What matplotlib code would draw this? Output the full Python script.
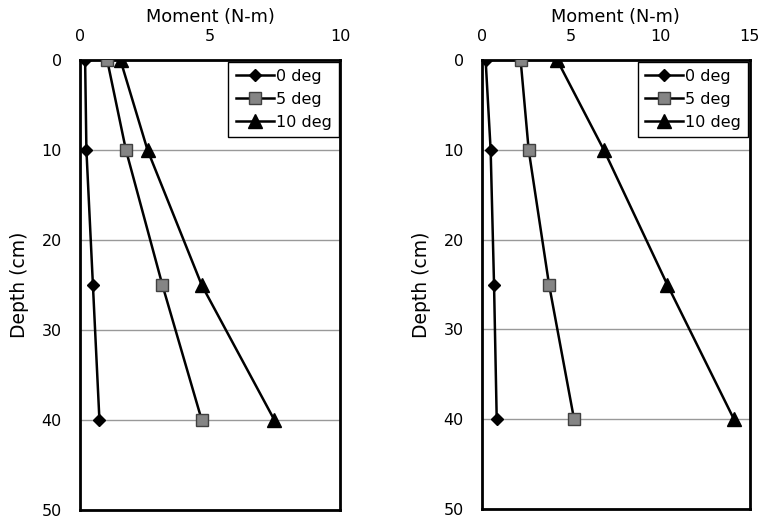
import matplotlib
matplotlib.use('Agg')
import matplotlib.pyplot as plt

plt.rcParams['font.family'] = ['DejaVu Sans']

depth = [0, 10, 25, 40]
labels = ['0 deg', '5 deg', '10 deg']

# left panel moments (N-m)
left_0 = [0.2, 0.25, 0.5, 0.75]
left_5 = [1.05, 1.77, 3.17, 4.68]
left_10 = [1.56, 2.6, 4.68, 7.47]

# right panel moments (N-m)
right_0 = [0.22, 0.5, 0.69, 0.84]
right_5 = [2.18, 2.63, 3.77, 5.17]
right_10 = [4.23, 6.84, 10.39, 14.12]

left_ticks = [0, 5, 10]
right_ticks = [0, 5, 10, 15]
depth_ticks = [0, 10, 20, 30, 40, 50]

fig = plt.figure(figsize=(7.61, 5.24), dpi=100)
ax1 = fig.add_axes([0.105, 0.027, 0.342, 0.858])
ax2 = fig.add_axes([0.633, 0.029, 0.352, 0.856])


def drawPanel(ax, s0, s5, s10, xticks):
    ax.plot(s0, depth, color='black', lw=1.8, marker='D', ms=6.5,
            mfc='black', mec='black', label=labels[0], zorder=3)
    ax.plot(s5, depth, color='black', lw=1.8, marker='s', ms=8.5,
            mfc='#858585', mec='#404040', label=labels[1], zorder=3)
    ax.plot(s10, depth, color='black', lw=1.8, marker='^', ms=9.5,
            mfc='black', mec='black', label=labels[2], zorder=3)
    ax.set_xlim(xticks[0], xticks[-1])
    ax.set_ylim(50, 0)
    ax.set_xticks(xticks)
    ax.set_yticks(depth_ticks)
    ax.xaxis.tick_top()
    ax.xaxis.set_label_position('top')
    ax.set_xlabel('Moment (N-m)', fontsize=12.8, labelpad=5)
    ax.set_ylabel('Depth (cm)', fontsize=13.5, labelpad=9)
    ax.tick_params(length=0, labelsize=11.5)
    ax.tick_params(axis='y', pad=13)
    ax.tick_params(axis='x', pad=12)
    ax.grid(axis='y', color='#999999', lw=1.0)
    for sp in ax.spines.values():
        sp.set_linewidth(2.0)
        sp.set_color('black')
    leg = ax.legend(loc='upper right', fontsize=11.5, frameon=True,
                    fancybox=False, framealpha=1, edgecolor='black',
                    handlelength=2.4, handletextpad=0.1, borderaxespad=0.1,
                    labelspacing=0.5, borderpad=0.45)
    leg.get_frame().set_linewidth(1.0)


drawPanel(ax1, left_0, left_5, left_10, left_ticks)
drawPanel(ax2, right_0, right_5, right_10, right_ticks)

fig.savefig('out.png', dpi=100)
